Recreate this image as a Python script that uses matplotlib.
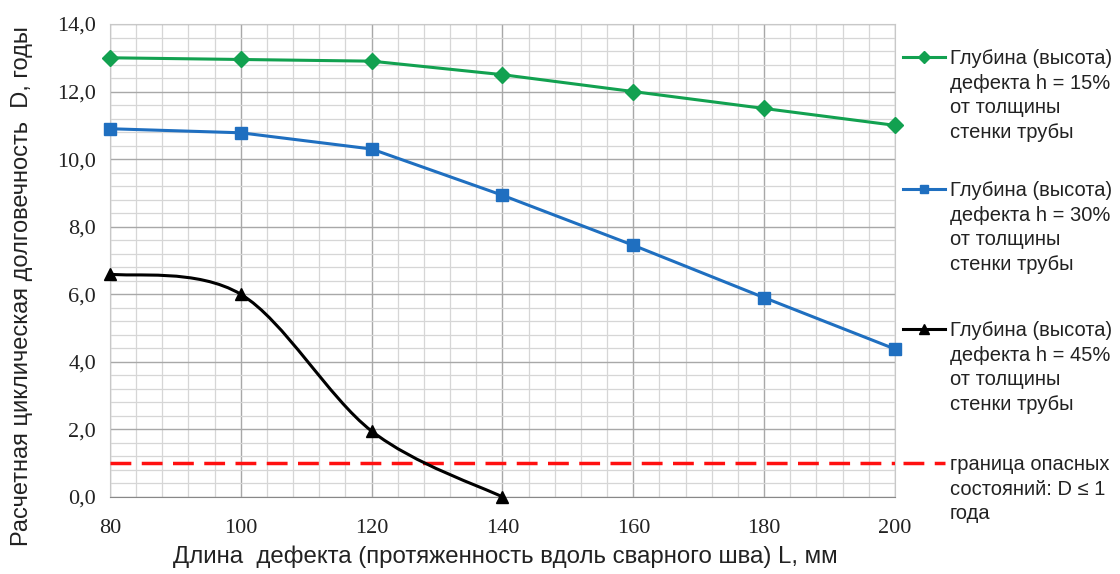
import numpy as np
import matplotlib
matplotlib.use('Agg')
import matplotlib.pyplot as plt
from matplotlib.path import Path
from matplotlib.patches import PathPatch
from matplotlib.lines import Line2D
from matplotlib.ticker import MultipleLocator, FuncFormatter

# data
L_mm = [80, 100, 120, 140, 160, 180, 200]
D_15 = [13.0, 12.95, 12.9, 12.5, 12.0, 11.5, 11.0]
D_30 = [10.9, 10.78, 10.3, 8.93, 7.45, 5.9, 4.38]
L_45 = [80, 100, 120, 140]
D_45 = [6.6, 6.0, 1.95, 0.0]
D_limit = 1.0

legend_labels = [
    'Глубина (высота)\nдефекта h = 15%\nот толщины\nстенки трубы',
    'Глубина (высота)\nдефекта h = 30%\nот толщины\nстенки трубы',
    'Глубина (высота)\nдефекта h = 45%\nот толщины\nстенки трубы',
    'граница опасных\nсостояний: D ≤ 1\nгода',
]

green = '#12a150'
blue = '#1f6fc0'
red = '#ff1010'

plt.rcParams['font.family'] = ['Liberation Sans', 'DejaVu Sans']

fig = plt.figure(figsize=(11.2, 5.74), dpi=100)
W, H = 1120, 574
ax = fig.add_axes([110 / W, 1 - 497 / H, (895 - 110) / W, (497 - 24) / H])

ax.set_xlim(80, 200)
ax.set_ylim(0, 14)
ax.xaxis.set_major_locator(MultipleLocator(20))
ax.xaxis.set_minor_locator(MultipleLocator(4))
ax.yaxis.set_major_locator(MultipleLocator(2))
ax.yaxis.set_minor_locator(MultipleLocator(0.4))
ax.grid(which='major', color='#a8a8a8', lw=1.0)
ax.grid(which='minor', color='#d6d6d6', lw=0.9)
ax.set_axisbelow(True)
for s in ax.spines.values():
    s.set_color('#c8c8c8')
ax.spines['bottom'].set_color('#888888')
ax.tick_params(which='both', length=0)
ax.tick_params(axis='x', pad=16)
ax.tick_params(axis='y', pad=10)
ax.yaxis.set_major_formatter(FuncFormatter(lambda v, p: ('%.1f' % v).replace('.', ',')))
for lab in ax.get_xticklabels() + ax.get_yticklabels():
    lab.set_family('Liberation Serif')
    lab.set_fontsize(16)
    lab.set_color('#222222')

ax.plot(L_mm, D_15, color=green, lw=2.2, marker='D', ms=8, clip_on=False, zorder=5)
ax.plot(L_mm, D_30, color=blue, lw=2.2, marker='s', ms=8, clip_on=False, zorder=5)

# smoothed black line (Bezier through points, like Excel smoothing)
px = np.array(L_45, dtype=float)
py = np.array(D_45, dtype=float)
pts = np.column_stack([px, py])
ext = np.vstack([pts[0], pts, pts[-1]])
verts = [tuple(pts[0])]
codes = [Path.MOVETO]
for i in range(len(pts) - 1):
    p0, p1, p2, p3 = ext[i], ext[i + 1], ext[i + 2], ext[i + 3]
    c1 = p1 + (p2 - p0) / 6.0
    c2 = p2 - (p3 - p1) / 6.0
    verts += [tuple(c1), tuple(c2), tuple(p2)]
    codes += [Path.CURVE4] * 3
ax.add_patch(PathPatch(Path(verts, codes), fill=False, ec='black', lw=2.2,
                       clip_on=False, zorder=5))
ax.plot(L_45, D_45, ls='none', color='black', marker='^', ms=9, clip_on=False, zorder=6)

ax.axhline(D_limit, color=red, lw=2.5, dashes=(6, 3), zorder=4)

ax.set_ylabel('Расчетная циклическая долговечность  D, годы', fontsize=17,
              color='#222222')
ax.yaxis.set_label_coords((33 - 110) / 785, (497 - 286) / 473)
ax.set_xlabel('Длина  дефекта (протяженность вдоль сварного шва) L, мм', fontsize=17.3,
              color='#222222')
ax.xaxis.set_label_coords((505 - 110) / 785, (497 - 545) / 473)

# legend drawn by hand so the sample sits at the first text line
entry_y = [57, 189, 329, 463]
styles = [
    dict(color=green, lw=2.2, marker='D', ms=6),
    dict(color=blue, lw=2.2, marker='s', ms=6),
    dict(color='black', lw=2.2, marker='^', ms=7),
    dict(color=red, lw=2.5, dashes=(6, 3)),
]
for y, st, lab in zip(entry_y, styles, legend_labels):
    yf = 1 - y / H
    if 'dashes' in st:
        ln = Line2D([903 / W, 945 / W], [yf, yf], transform=fig.transFigure, **st)
    else:
        ln = Line2D([903 / W, 924 / W, 945 / W], [yf, yf, yf],
                    transform=fig.transFigure, markevery=[1], **st)
    fig.add_artist(ln)
    fig.text(950 / W, yf + 8 / H, lab, fontsize=14.5, va='top', ha='left',
             linespacing=1.38, color='#222222')

fig.savefig('out.png', dpi=100)
